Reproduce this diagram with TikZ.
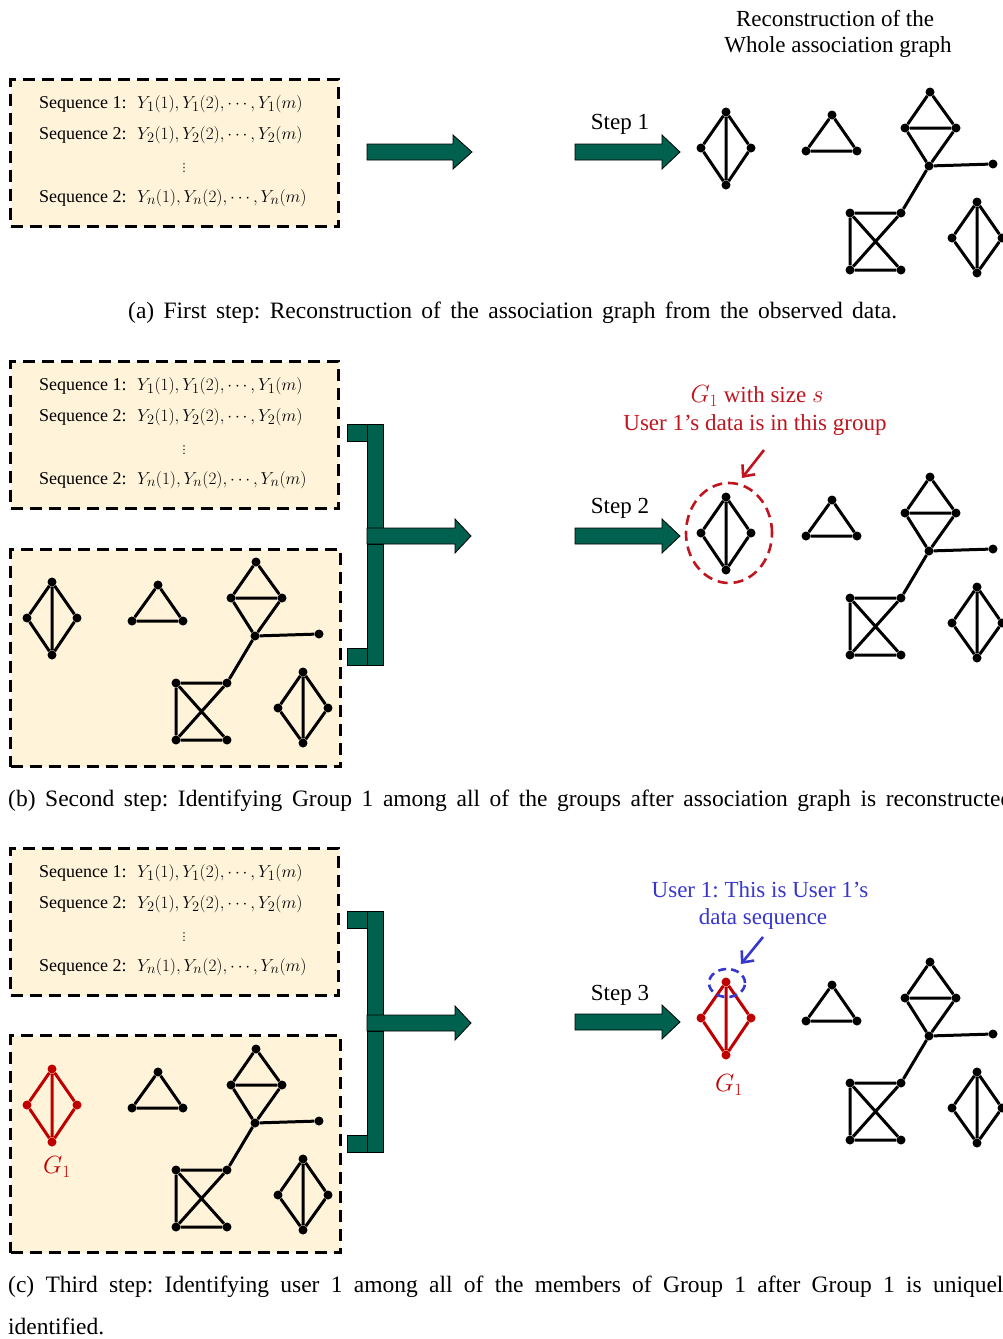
\documentclass[tikz,border=0pt]{standalone}
\usepackage{fontspec}
\setmainfont{Liberation Serif}
\newfontfamily\symfont{DejaVu Sans}
\usetikzlibrary{arrows.meta,shapes.geometric}
\frenchspacing
\definecolor{boxfill}{RGB}{255,244,218}
\definecolor{dgreen}{RGB}{0,97,78}
\definecolor{gred}{RGB}{192,0,0}
\definecolor{tred}{RGB}{192,20,30}
\definecolor{gblue}{RGB}{55,55,205}
\newcommand{\capfont}{\fontsize{23.5}{28}\selectfont}
\newcommand{\seqfont}{\fontsize{18}{21}\selectfont}
\newcommand{\mathfontsz}{\fontsize{19}{22}\selectfont}
\newcommand{\lblfont}{\fontsize{23}{27}\selectfont}
\newcommand{\capline}[2]{\capfont\makebox[#1][s]{#2}}
\tikzset{
  dbox/.style={draw=black, fill=boxfill, line width=3pt, dash pattern=on 12pt off 7pt},
  vtx/.style={circle, inner sep=0pt, minimum size=9pt},
  gedge/.style={line width=3pt},
  blk/.style={draw=black, fill=dgreen, line width=0.8pt, line join=miter},
  txt/.style={inner sep=0pt},
  pointer/.style={line width=2.6pt, -{Straight Barb[length=9pt,width=16pt,line width=2.6pt]}},
}
% association graph: #1 prefix, #2,#3 position of first diamond top, #4 colour of first diamond
\newcommand{\assocgraph}[4]{%
\begin{scope}[shift={(#2,#3)}]
  \node[vtx,fill=#4] (#1a1) at (0,0) {};
  \node[vtx,fill=#4] (#1a2) at (-25,36) {};
  \node[vtx,fill=#4] (#1a3) at (25,36) {};
  \node[vtx,fill=#4] (#1a4) at (0,73) {};
  \draw[gedge,draw=#4] (#1a1)--(#1a2) (#1a1)--(#1a3) (#1a2)--(#1a4) (#1a3)--(#1a4) (#1a1)--(#1a4);
  \node[vtx,fill=black] (#1b1) at (106,3) {};
  \node[vtx,fill=black] (#1b2) at (80,39) {};
  \node[vtx,fill=black] (#1b3) at (131,39) {};
  \draw[gedge] (#1b1)--(#1b2) (#1b1)--(#1b3) (#1b2)--(#1b3);
  \node[vtx,fill=black] (#1c1) at (204,-20) {};
  \node[vtx,fill=black] (#1c2) at (179,16) {};
  \node[vtx,fill=black] (#1c3) at (230,16) {};
  \node[vtx,fill=black] (#1c4) at (203,54) {};
  \node[vtx,fill=black] (#1c5) at (267,52) {};
  \node[vtx,fill=black] (#1d1) at (124,101) {};
  \node[vtx,fill=black] (#1d2) at (175,101) {};
  \node[vtx,fill=black] (#1d3) at (124,158) {};
  \node[vtx,fill=black] (#1d4) at (175,158) {};
  \draw[gedge] (#1c1)--(#1c2) (#1c1)--(#1c3) (#1c2)--(#1c3) (#1c2)--(#1c4) (#1c3)--(#1c4)
               (#1c4)--(#1c5) (#1c4)--(#1d2);
  \draw[gedge] (#1d1)--(#1d2) (#1d1)--(#1d3) (#1d3)--(#1d4) (#1d1)--(#1d4) (#1d3)--(#1d2);
  \node[vtx,fill=black] (#1e1) at (251,90) {};
  \node[vtx,fill=black] (#1e2) at (226,126) {};
  \node[vtx,fill=black] (#1e3) at (276,126) {};
  \node[vtx,fill=black] (#1e4) at (251,161) {};
  \draw[gedge] (#1e1)--(#1e2) (#1e1)--(#1e3) (#1e2)--(#1e4) (#1e3)--(#1e4) (#1e1)--(#1e4);
\end{scope}}
% sequence box: #1 prefix, #2 top y
\newcommand{\seqbox}[2]{%
\begin{scope}[shift={(0,#2)}]
  \node[dbox, minimum width=328pt, minimum height=147pt, anchor=north west, inner sep=0pt] (#1box) at (9,0) {};
  \node[txt, anchor=west] (#1s1) at (39,26) {\seqfont Sequence 1:};
  \node[txt, anchor=west] (#1m1) at (137,26) {\mathfontsz $Y_1(1),Y_1(2),\cdots,Y_1(m)$};
  \node[txt, anchor=west] (#1s2) at (39,57) {\seqfont Sequence 2:};
  \node[txt, anchor=west] (#1m2) at (137,57) {\mathfontsz $Y_2(1),Y_2(2),\cdots,Y_2(m)$};
  \node[txt] (#1vd) at (184,90) {\fontsize{11}{13}\symfont ⋮};
  \node[txt, anchor=west] (#1s3) at (39,120) {\seqfont Sequence 2:};
  \node[txt, anchor=west] (#1m3) at (137,120) {\mathfontsz $Y_n(1),Y_n(2),\cdots,Y_n(m)$};
\end{scope}}
% block arrow: x0, shaft end, tip, y centre
\newcommand{\blockarrow}[4]{%
  \draw[blk] (#1,#4-8) -- (#2,#4-8) -- (#2,#4-17) -- (#3,#4) -- (#2,#4+17) -- (#2,#4+8) -- (#1,#4+8) -- cycle;}
% bracket with arrow: top y
\newcommand{\bracketarrow}[1]{%
\begin{scope}[shift={(0,#1)}]
  \draw[blk] (347,0) rectangle (367,17);
  \draw[blk] (347,224) rectangle (367,241);
  \draw[blk] (367,0) rectangle (383,104);
  \draw[blk] (367,120) rectangle (383,241);
  \draw[blk] (367,104) -- (455,104) -- (455,95) -- (471,112) -- (455,129) -- (455,120) -- (367,120) -- cycle;
\end{scope}}
\begin{document}
\begin{tikzpicture}[x=1pt,y=-1pt]
\useasboundingbox (0,0) rectangle (1003,1339);
\fill[white] (0,0) rectangle (1003,1339);

% ---------- (a) ----------
\node[txt] (hdr1) at (835,19) {\lblfont Reconstruction of the};
\node[txt] (hdr2) at (838,47) {\lblfont Whole association graph};
\seqbox{a}{78}
\blockarrow{367}{453}{472}{152}
\blockarrow{575}{662}{680}{152}
\node[txt] (step1) at (620,124) {\lblfont Step 1};
\assocgraph{ra}{726}{112}{black}

% ---------- (b) ----------
\seqbox{b}{360}
\node[dbox, minimum width=330pt, minimum height=217pt, anchor=north west, inner sep=0pt] (bgbox) at (9,548) {};
\assocgraph{lb}{52}{582}{black}
\bracketarrow{424}
\blockarrow{575}{662}{680}{536}
\node[txt] (step2) at (620,508) {\lblfont Step 2};
\assocgraph{rb}{726}{497}{black}
\node[txt, text=tred] (g1a) at (757,396) {\lblfont $G_1$ with size $s$};
\node[txt, text=tred] (g1b) at (755,425) {\lblfont User 1’s data is in this group};
\node[draw=tred, line width=2.6pt, dash pattern=on 10pt off 6pt, ellipse, minimum width=86pt, minimum height=100pt, inner sep=0pt] (redcirc) at (729,533) {};
\coordinate (redstart) at (764,450);
\coordinate (redtip) at (742,478);
\draw[pointer, tred] (redstart) -- (redtip);

% ---------- (c) ----------
\seqbox{c}{847}
\node[dbox, minimum width=330pt, minimum height=217pt, anchor=north west, inner sep=0pt] (cgbox) at (9,1034) {};
\assocgraph{lc}{52}{1069}{gred}
\node[txt, text=gred] (g1l) at (57,1167) {\lblfont $G_1$};
\bracketarrow{911}
\blockarrow{575}{662}{680}{1022}
\node[txt] (step3) at (620,995) {\lblfont Step 3};
\assocgraph{rc}{726}{982}{gred}
\node[txt, text=gred] (g1r) at (729,1085) {\lblfont $G_1$};
\node[txt, text=gblue] (u1a) at (760,890) {\lblfont User 1: This is User 1’s};
\node[txt, text=gblue] (u1b) at (763,919) {\lblfont data sequence};
\node[draw=gblue, line width=2.6pt, dash pattern=on 8pt off 5pt, ellipse, minimum width=36pt, minimum height=28pt, inner sep=0pt] (bluecirc) at (727,983) {};
\coordinate (bluestart) at (763,937);
\coordinate (bluetip) at (741,964);
\draw[pointer, gblue] (bluestart) -- (bluetip);

% ---------- captions ----------
\begin{scope}
\clip (0,0) rectangle (1003,1339);
\node[txt, anchor=base west] (capa) at (128,318) {\capline{769pt}{(a) First step: Reconstruction of the association graph from the observed data.}};
\node[txt, anchor=base west] (capb) at (8,806) {\capline{1010pt}{(b) Second step: Identifying Group 1 among all of the groups after association graph is reconstructed.}};
\node[txt, anchor=base west] (capc1) at (8,1292) {\capline{1007pt}{(c) Third step: Identifying user 1 among all of the members of Group 1 after Group 1 is uniquely}};
\node[txt, anchor=base west] (capc2) at (8,1334) {\capfont identified.};
\end{scope}
\end{tikzpicture}
\end{document}
